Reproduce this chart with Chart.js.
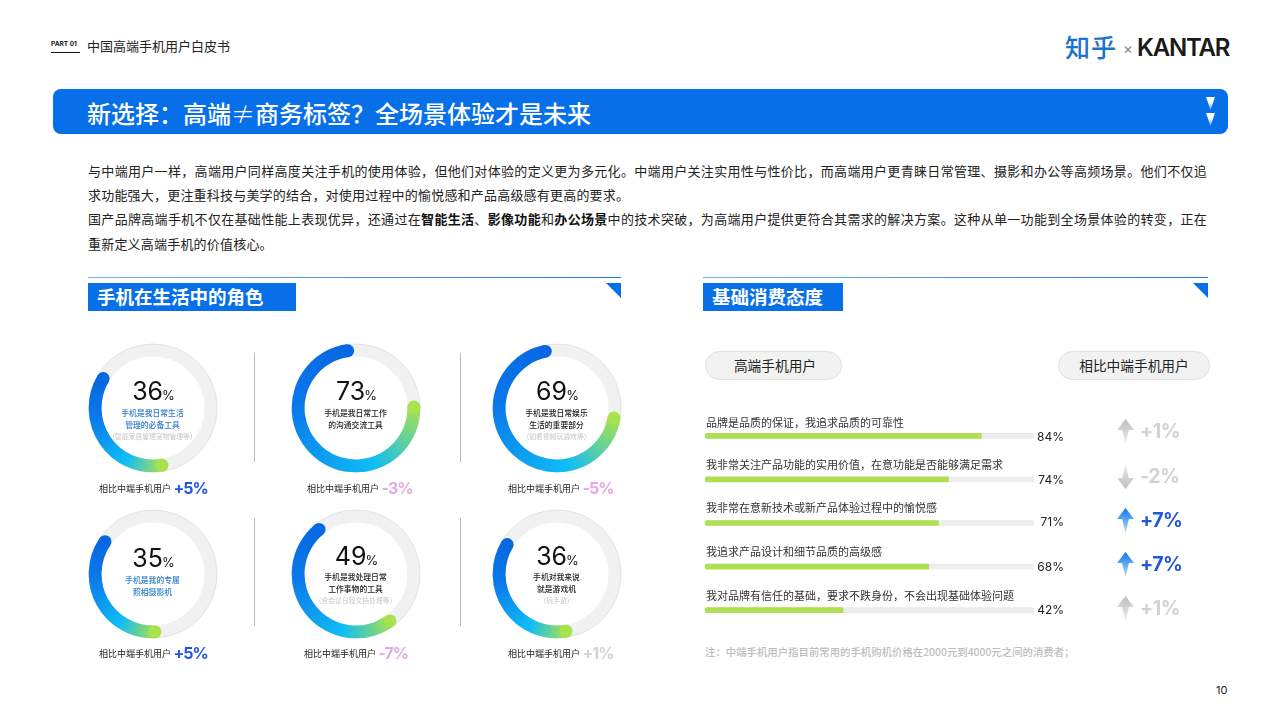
<!DOCTYPE html>
<html lang="zh-CN">
<head>
<meta charset="utf-8">
<title>中国高端手机用户白皮书</title>
<script src="https://cdn.jsdelivr.net/npm/chart.js@4/dist/chart.umd.min.js"></script>
<style>
  html, body { margin: 0; padding: 0; background: #fff; }
  #page { position: relative; width: 1280px; height: 720px; overflow: hidden; background: #fff;
          font-family: "Noto Sans CJK SC", sans-serif; color: #222; }
  #page div, #page canvas { position: absolute; }
  .t { white-space: nowrap; transform: translateY(-50%); margin-top: -1px; }
  .c { white-space: nowrap; transform: translate(-50%, -50%); text-align: center; margin-top: -1px; }
  .num { font-family: Inter, "Noto Sans CJK SC", sans-serif; margin-top: 0; }
  .line { left: 88px; white-space: nowrap; font-size: 13px; letter-spacing: .2px; color: #222; transform: translateY(-50%); margin-top: -1px; }
  .full { width: 1119px; white-space: normal; text-align: justify; text-align-last: justify; }
  .line b { font-weight: 700; color: #111; }
  .box { background: #0770e8; }
  .rule { height: 1.5px; background: linear-gradient(90deg, #74b3f3, #1f78e0); }
  .pill { background: #f2f2f2; border: 1px solid #e0e0e0; border-radius: 15px; box-sizing: border-box; }
  .arrow { width: 17px; height: 25px; clip-path: polygon(50% 0, 100% 44%, 70% 44%, 50% 100%, 30% 44%, 0 44%); }
  .down { transform: scaleY(-1); }
</style>
</head>
<body>
<div id="page">
  <div class="t" style="left:51px;top:45px;font:700 6.5px Inter;color:#111">PART 01</div>
  <div style="left:51px;top:52px;width:29px;height:1px;background:#111"></div>
  <div class="t" style="left:87px;top:46px;font-size:13px;color:#222">中国高端手机用户白皮书</div>

  <div class="t" style="left:1065px;top:47px;font-size:25px;font-weight:500;letter-spacing:1px;color:#1a73cf">知乎</div>
  <div class="t" style="left:1123px;top:49px;font:400 15px Inter;color:#888">×</div>
  <div class="t" style="left:1137px;top:48px;font:600 24px Inter;letter-spacing:-1.2px;color:#1c1a18">KANTAR</div>

  <div class="box" style="left:53px;top:89px;width:1175px;height:45px;border-radius:8px"></div>
  <div class="t" style="left:87px;top:112.5px;font-size:24px;font-weight:500;color:#fff">新选择&#xFF1A;高端<span style="font-weight:300">≠</span>商务标签&#xFF1F;全场景体验才是未来</div>
  <div style="left:1206px;top:97px;width:9px;height:13px;clip-path:polygon(0 0,100% 0,50% 100%);background:linear-gradient(#fff 40%,#5aa2f2)"></div>
  <div style="left:1206px;top:113px;width:9px;height:13px;clip-path:polygon(0 0,100% 0,50% 100%);background:linear-gradient(#fff 40%,#5aa2f2)"></div>

  <div class="line full" style="top:171px">与中端用户一样&#xFF0C;高端用户同样高度关注手机的使用体验&#xFF0C;但他们对体验的定义更为多元化。中端用户关注实用性与性价比&#xFF0C;而高端用户更青睐日常管理、摄影和办公等高频场景。他们不仅追</div>
  <div class="line" style="top:195px">求功能强大&#xFF0C;更注重科技与美学的结合&#xFF0C;对使用过程中的愉悦感和产品高级感有更高的要求。</div>
  <div class="line full" style="top:219px">国产品牌高端手机不仅在基础性能上表现优异&#xFF0C;还通过在<b>智能生活</b>、<b>影像功能</b>和<b>办公场景</b>中的技术突破&#xFF0C;为高端用户提供更符合其需求的解决方案。这种从单一功能到全场景体验的转变&#xFF0C;正在</div>
  <div class="line" style="top:244px">重新定义高端手机的价值核心。</div>

  <div class="rule" style="left:88px;top:276.5px;width:533px"></div>
  <div class="box" style="left:88px;top:283px;width:208px;height:28px"></div>
  <div class="t" style="left:97px;top:297px;font-size:18.5px;font-weight:700;color:#fff">手机在生活中的角色</div>
  <div class="box" style="left:606px;top:283px;width:15px;height:15px;clip-path:polygon(0 0,100% 0,100% 100%)"></div>

  <div class="rule" style="left:703px;top:276.5px;width:505px"></div>
  <div class="box" style="left:703px;top:283px;width:140px;height:28px"></div>
  <div class="t" style="left:712px;top:297px;font-size:18.5px;font-weight:700;color:#fff">基础消费态度</div>
  <div class="box" style="left:1193px;top:283px;width:15px;height:15px;clip-path:polygon(0 0,100% 0,100% 100%)"></div>

  <div style="left:254px;top:353px;width:1px;height:109px;background:#bbb"></div>
  <div style="left:460px;top:353px;width:1px;height:109px;background:#bbb"></div>
  <div style="left:254px;top:518px;width:1px;height:108px;background:#bbb"></div>
  <div style="left:460px;top:518px;width:1px;height:108px;background:#bbb"></div>

  <div class="pill" style="left:705px;top:351px;width:137px;height:29px"></div>
  <div class="c" style="left:775px;top:366px;font-size:13.7px;color:#222">高端手机用户</div>
  <div class="pill" style="left:1058px;top:351px;width:152px;height:29px"></div>
  <div class="c" style="left:1134px;top:366px;font-size:13.7px;color:#222">相比中端手机用户</div>

  <div class="t" style="left:705px;top:652px;font-size:10.4px;font-weight:500;color:#bdbdbd">注&#xFF1A;中端手机用户指目前常用的手机购机价格在2000元到4000元之间的消费者&#xFF1B;</div>
  <div class="t num" style="left:1216px;top:690px;font-size:11px;color:#222">10</div>

  <canvas id="barChart" width="329" height="218" style="left:705px;top:414px;width:329px;height:218px"></canvas>
</div>

<script>
// DONNÉES
const ringValues = [36, 73, 69, 35, 49, 36];
const ringRest = [64, 27, 31, 65, 51, 64];
const ringLines = [
    ['手机是我日常生活', '管理的必备工具'],
    ['手机是我日常工作', '的沟通交流工具'],
    ['手机是我日常娱乐', '生活的重要部分'],
    ['手机是我的专属', '照相摄影机'],
    ['手机是我处理日常', '工作事物的工具'],
    ['手机对我来说', '就是游戏机']
];
const ringNotes = ['\uFF08智能家居管理宠物管理等\uFF09', '', '\uFF08如看视频玩游戏等\uFF09', '', '\uFF08含会议日程文档处理等\uFF09', '\uFF08玩手游\uFF09'];
const ringDeltas = ['+5%', '-3%', '-5%', '+5%', '-7%', '+1%'];
const compareLabel = '相比中端手机用户';

const barLabels = [
    '品牌是品质的保证\uFF0C我追求品质的可靠性',
    '我非常关注产品功能的实用价值\uFF0C在意功能是否能够满足需求',
    '我非常在意新技术或新产品体验过程中的愉悦感',
    '我追求产品设计和细节品质的高级感',
    '我对品牌有信任的基础\uFF0C要求不跌身份\uFF0C不会出现基础体验问题'
];
const barValues = [84, 74, 71, 68, 42];
const barTrack = [100, 100, 100, 100, 100];
const barDeltas = ['+1%', '-2%', '+7%', '+7%', '+1%'];

// MISE EN PAGE
const ringX = [152.5, 355.5, 556.5, 152.5, 355.5, 556.5];
const ringY = [407.7, 407.7, 407.7, 573.7, 573.7, 573.7];
const ringRotation = [171, 89, 100, 178, 144, 171];
const numberY = [391, 391, 391, 558, 556, 556];
const firstLineY = [413, 413, 413, 580, 577, 577];
const footY = [489, 489, 489, 654, 654, 654];
const footX = [99, 307, 508, 99, 304, 508];
const ringTextColor = ['#2b7ccf', '#222', '#222', '#2b7ccf', '#222', '#222'];
const barLabelY = [423, 465, 508, 552, 596];
const barPercentY = [436, 479, 521, 566, 609];
const barDeltaY = [431, 476, 520, 564, 608];

const BLUE = '#2256dc', PINK = '#e4a9e0', GREY = '#d2d2d2';
const page = document.getElementById('page');

function put(html, className, css) {
    const el = document.createElement('div');
    el.className = className;
    el.style.cssText = css;
    el.innerHTML = html;
    page.appendChild(el);
    return el;
}

function ringDeltaColor(delta) {
    if (delta[0] === '-') return PINK;
    return parseInt(delta) >= 5 ? BLUE : GREY;
}

// Piste grise sous l'anneau
const ringTrack = {
    id: 'ringTrack',
    beforeDatasetsDraw(chart) {
        const arc = chart.getDatasetMeta(0).data[0];
        const c = chart.ctx;
        const r = (arc.outerRadius + arc.innerRadius) / 2;
        c.save();
        c.beginPath();
        c.arc(arc.x, arc.y, r, 0, Math.PI * 2);
        c.lineWidth = arc.outerRadius - arc.innerRadius;
        c.strokeStyle = '#f1f1f1';
        c.stroke();
        c.beginPath();
        c.arc(arc.x, arc.y, arc.outerRadius - 0.3, 0, Math.PI * 2);
        c.lineWidth = 0.6;
        c.strokeStyle = '#d8d8d8';
        c.stroke();
        c.restore();
    }
};

// Extrémités arrondies de l'arc
const ringCaps = {
    id: 'ringCaps',
    afterDatasetsDraw(chart) {
        const arc = chart.getDatasetMeta(0).data[0];
        const c = chart.ctx;
        const r = (arc.outerRadius + arc.innerRadius) / 2;
        const w = (arc.outerRadius - arc.innerRadius) / 2;
        [[arc.startAngle, '#a8e24e'], [arc.endAngle, '#0668e2']].forEach(([a, color]) => {
            c.beginPath();
            c.arc(arc.x + r * Math.cos(a), arc.y + r * Math.sin(a), w, 0, Math.PI * 2);
            c.fillStyle = color;
            c.fill();
        });
    }
};

function ringGradient(context) {
    const chart = context.chart;
    if (context.dataIndex !== 0) return 'rgba(0,0,0,0)';
    const data = context.dataset.data;
    const span = data[0] / (data[0] + data[1]);
    const start = (chart.options.rotation - 90) * Math.PI / 180;
    const g = chart.ctx.createConicGradient(start, chart.width / 2, chart.height / 2);
    g.addColorStop(0, '#a8e24e');
    g.addColorStop(span * 0.28, '#0fbdf6');
    g.addColorStop(span * 0.7, '#0a78ea');
    g.addColorStop(span, '#0668e2');
    g.addColorStop(1, '#a8e24e');
    return g;
}

// ANNEAUX
ringValues.forEach((value, i) => {
    const canvas = document.createElement('canvas');
    canvas.style.cssText = `left:${ringX[i] - 65}px;top:${ringY[i] - 65}px`;
    page.appendChild(canvas);
    canvas.width = 130;
    canvas.height = 130;

    new Chart(canvas, {
        type: 'doughnut',
        data: {
            labels: ['高端手机用户', '其他'],
            datasets: [{
                data: [value, ringRest[i]],
                backgroundColor: ringGradient,
                borderWidth: 0
            }]
        },
        options: {
            responsive: false,
            animation: false,
            events: [],
            rotation: ringRotation[i],
            cutout: '80%',
            radius: 64.3,
            layout: { padding: 0 },
            plugins: { legend: { display: false }, tooltip: { enabled: false } }
        },
        plugins: [ringTrack, ringCaps]
    });

    put(`${value}<span style="font-size:13px;margin-left:-1px">%</span>`, 'c num',
        `left:${ringX[i] + 1}px;top:${numberY[i]}px;font-size:25px;color:#111`);
    ringLines[i].forEach((line, k) => {
        put(line, 'c', `left:${ringX[i]}px;top:${firstLineY[i] + k * 11.7}px;font-size:7.8px;font-weight:500;color:${ringTextColor[i]}`);
    });
    if (ringNotes[i]) {
        put(ringNotes[i], 'c', `left:${ringX[i]}px;top:${firstLineY[i] + 23.5}px;font-size:6.8px;color:#c6c6c6`);
    }
    put(compareLabel, 't', `left:${footX[i]}px;top:${footY[i]}px;font-size:9px;color:#222`);
    put(ringDeltas[i], 't num', `left:${footX[i] + 74.5}px;top:${footY[i] - 1}px;font-size:16px;font-weight:700;letter-spacing:-1px;color:${ringDeltaColor(ringDeltas[i])}`);
});

// BARRES
const barChart = new Chart(document.getElementById('barChart'), {
    type: 'bar',
    data: {
        labels: barLabels,
        datasets: [
            {
                data: barValues,
                backgroundColor: '#aee152',
                barThickness: 5,
                grouped: false,
                order: 0,
                borderRadius: { topLeft: 2.5, bottomLeft: 2.5, topRight: 1, bottomRight: 1 },
                borderSkipped: false
            },
            {
                data: barTrack,
                backgroundColor: '#eeeeee',
                borderColor: '#e0e0e0',
                borderWidth: 0.5,
                barThickness: 5,
                grouped: false,
                order: 1,
                borderRadius: 2.5,
                borderSkipped: false
            }
        ]
    },
    options: {
        indexAxis: 'y',
        responsive: false,
        animation: false,
        events: [],
        layout: { padding: 0 },
        scales: {
            x: { display: false, min: 0, max: 100 },
            y: { display: false }
        },
        plugins: { legend: { display: false }, tooltip: { enabled: false } }
    }
});

// Textes à côté des barres
barLabels.forEach((label, i) => {
    const isBlue = parseInt(barDeltas[i]) >= 5;
    const isDown = barDeltas[i][0] === '-';
    put(label, 't', `left:706px;top:${barLabelY[i]}px;font-size:11px;color:#333`);
    put(barValues[i] + '%', 't num', `right:${1280 - 1064}px;top:${barPercentY[i]}px;font-size:12px;color:#222`);
    const fill = isBlue ? 'linear-gradient(#0d76e8,#b9defc)' : 'linear-gradient(#bdbdbd,#eeeeee)';
    put('', isDown ? 'arrow down' : 'arrow', `left:1117px;top:${barDeltaY[i] - 12}px;background:${fill}`);
    put(barDeltas[i], 't num', `left:1140px;top:${barDeltaY[i]}px;font-size:19.5px;font-weight:700;letter-spacing:-.5px;color:${isBlue ? BLUE : GREY}`);
});
</script>
</body>
</html>
